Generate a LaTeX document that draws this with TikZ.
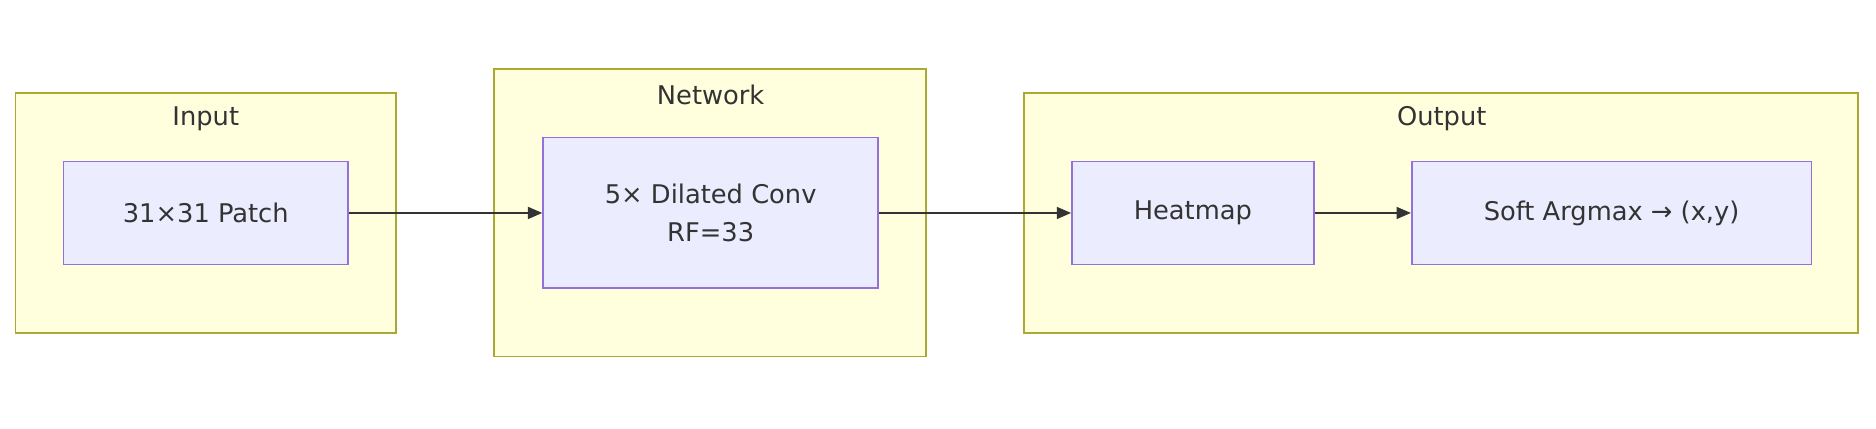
\documentclass[tikz,border=0pt]{standalone}
\usepackage{fontspec}
\setmainfont{DejaVu Sans}
\usetikzlibrary{arrows.meta}
\definecolor{cf}{HTML}{FFFFDE}\definecolor{cs}{HTML}{AAAA33}
\definecolor{nf}{HTML}{ECECFF}\definecolor{ns}{HTML}{9370DB}
\definecolor{tx}{HTML}{333333}
\begin{document}
\begin{tikzpicture}[x=1pt,y=-1pt,
 clus/.style={draw=cs,fill=cf,line width=1.5pt},
 nd/.style={draw=ns,fill=nf,line width=1.5pt},
 lab/.style={text=tx,font=\fontsize{21.5}{26}\selectfont,align=center},
 arr/.style={draw=tx,line width=1.5pt,-{Triangle[length=12pt,width=10pt]}}]
\useasboundingbox (0,0) rectangle (1568,358);
\draw[clus] (13,78) rectangle (331,278);
\draw[clus] (413,58) rectangle (774,298);
\draw[clus] (856,78) rectangle (1553,278);
\node[lab] (ti) at (172,99) {Input};
\node[lab] (tn) at (594,79) {Network};
\node[lab] (to) at (1205,99) {Output};
\node[nd,lab,minimum width=238pt,minimum height=86pt] (p) at (172,178) {31×31 Patch};
\node[nd,lab,minimum width=280pt,minimum height=126pt] (n) at (594,178) {5× Dilated Conv\\[6pt]RF=33};
\node[nd,lab,minimum width=202pt,minimum height=86pt] (h) at (997,178) {Heatmap};
\node[nd,lab,minimum width=334pt,minimum height=86pt] (s) at (1347,178) {Soft Argmax → (x,y)};
\draw[arr] (p) -- (n);
\draw[arr] (n) -- (h);
\draw[arr] (h) -- (s);
\end{tikzpicture}
\end{document}
